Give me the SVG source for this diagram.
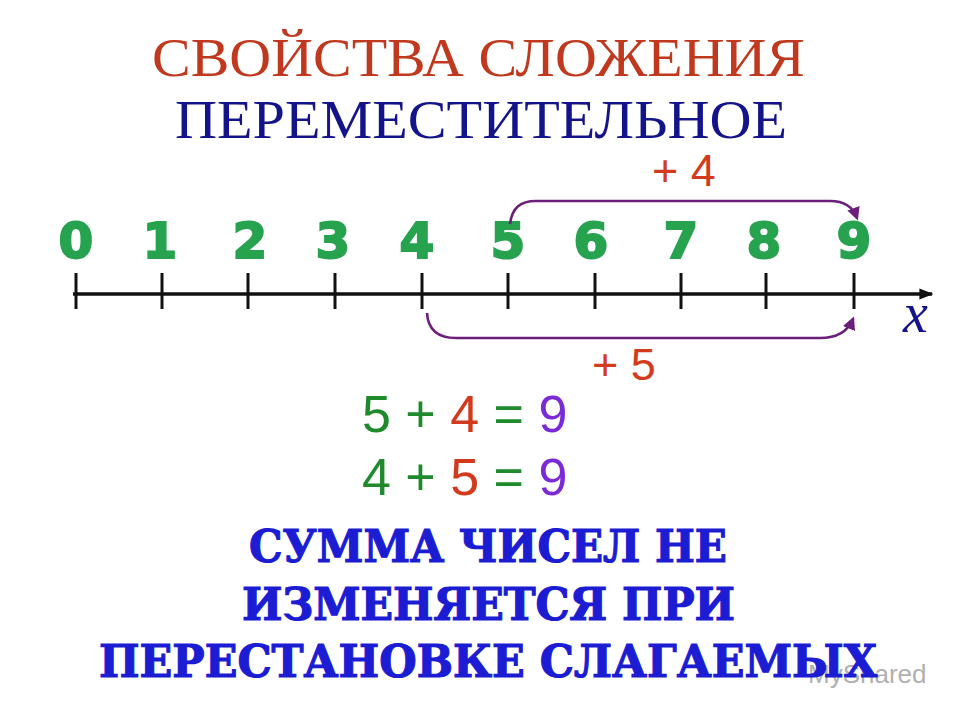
<svg xmlns="http://www.w3.org/2000/svg" width="960" height="720" viewBox="0 0 960 720">
<style>
.title{font-family:"Liberation Serif","DejaVu Serif",serif;font-size:54px}
.dig{font-family:"DejaVu Sans","Verdana",sans-serif;font-weight:bold;font-size:50px;fill:#27a34f;stroke:#27a34f;stroke-width:2;text-anchor:middle}
.step{font-family:"Liberation Sans",Arial,sans-serif;font-size:45px;fill:#d23c1c}
.eq{font-family:"Liberation Sans",Arial,sans-serif;font-size:52px}
.g{fill:#1f8a2c}.r{fill:#d23a1e}.p{fill:#7a2ad6}
.rule{font-family:"DejaVu Serif","Liberation Serif",serif;font-weight:bold;font-size:45px;fill:#1c1cd2;stroke:#1c1cd2;stroke-width:1.2}
.tick{stroke:#111;stroke-width:3}
.arc{fill:none;stroke:#6b1f7a;stroke-width:2.6}
</style>
<defs>
<marker id="ah" viewBox="0 0 10 10" refX="8" refY="5" markerWidth="5" markerHeight="5" orient="auto" markerUnits="strokeWidth">
<path d="M0,0 L10,5 L0,10 Z" fill="#6b1f7a"/>
</marker>
<marker id="axh" viewBox="0 0 10 10" refX="9" refY="5" markerWidth="4" markerHeight="4" orient="auto" markerUnits="strokeWidth">
<path d="M0,1 L10,5 L0,9 Z" fill="#111"/>
</marker>
</defs>
<rect width="960" height="720" fill="#fff"/>
<g id="watermark">
<text x="808" y="683" font-family="Liberation Sans,Arial,sans-serif" font-size="26" fill="#9a9a9a" fill-opacity="0.8">MyShared</text>
</g>
<g id="title">
<text class="title" x="152" y="76" fill="#c0391e" textLength="653" lengthAdjust="spacingAndGlyphs">СВОЙСТВА  СЛОЖЕНИЯ</text>
<text class="title" x="175" y="138" fill="#14148a" textLength="612" lengthAdjust="spacingAndGlyphs">ПЕРЕМЕСТИТЕЛЬНОЕ</text>
</g>
<g id="axis">
<line x1="73" y1="294" x2="932" y2="294" stroke="#111" stroke-width="3.5" marker-end="url(#axh)"/>
<line class="tick" x1="76" y1="273" x2="76" y2="309"/>
<line class="tick" x1="162" y1="273" x2="162" y2="309"/>
<line class="tick" x1="248" y1="273" x2="248" y2="309"/>
<line class="tick" x1="335" y1="273" x2="335" y2="309"/>
<line class="tick" x1="422" y1="273" x2="422" y2="309"/>
<line class="tick" x1="508" y1="273" x2="508" y2="309"/>
<line class="tick" x1="595" y1="273" x2="595" y2="309"/>
<line class="tick" x1="681" y1="273" x2="681" y2="309"/>
<line class="tick" x1="766" y1="273" x2="766" y2="309"/>
<line class="tick" x1="854" y1="273" x2="854" y2="309"/>
<text x="903" y="332" font-family="Liberation Serif,serif" font-style="italic" font-size="56" fill="#14148a">x</text>
</g>
<g id="digits">
<text class="dig" x="76" y="258">0</text>
<text class="dig" x="160" y="258">1</text>
<text class="dig" x="250" y="258">2</text>
<text class="dig" x="333" y="258">3</text>
<text class="dig" x="417" y="258">4</text>
<text class="dig" x="508" y="258">5</text>
<text class="dig" x="591" y="258">6</text>
<text class="dig" x="681" y="258">7</text>
<text class="dig" x="764" y="258">8</text>
<text class="dig" x="854" y="258">9</text>
</g>
<g id="connectors">
<path class="arc" d="M510 224 C512 208 520 201 536 201 L830 201 C845 201 853 207 857 218" marker-end="url(#ah)"/>
<path class="arc" d="M427 313 C428 330 438 338 456 338 L820 338 C838 338 848 331 853 319" marker-end="url(#ah)"/>
</g>
<g id="labels">
<text class="step" x="652" y="186">+ 4</text>
<text class="step" x="592" y="380">+ 5</text>
</g>
<g id="equations">
<text class="eq" x="362" y="432"><tspan class="g">5 + </tspan><tspan class="r">4</tspan><tspan class="g"> = </tspan><tspan class="p">9</tspan></text>
<text class="eq" x="362" y="495"><tspan class="g">4 + </tspan><tspan class="r">5</tspan><tspan class="g"> = </tspan><tspan class="p">9</tspan></text>
</g>
<g id="rule">
<text class="rule" x="249" y="562" textLength="478" lengthAdjust="spacingAndGlyphs">СУММА ЧИСЕЛ НЕ</text>
<text class="rule" x="242" y="620" textLength="493" lengthAdjust="spacingAndGlyphs">ИЗМЕНЯЕТСЯ ПРИ</text>
<text class="rule" x="99" y="677" textLength="778" lengthAdjust="spacingAndGlyphs">ПЕРЕСТАНОВКЕ СЛАГАЕМЫХ</text>
</g>
</svg>
